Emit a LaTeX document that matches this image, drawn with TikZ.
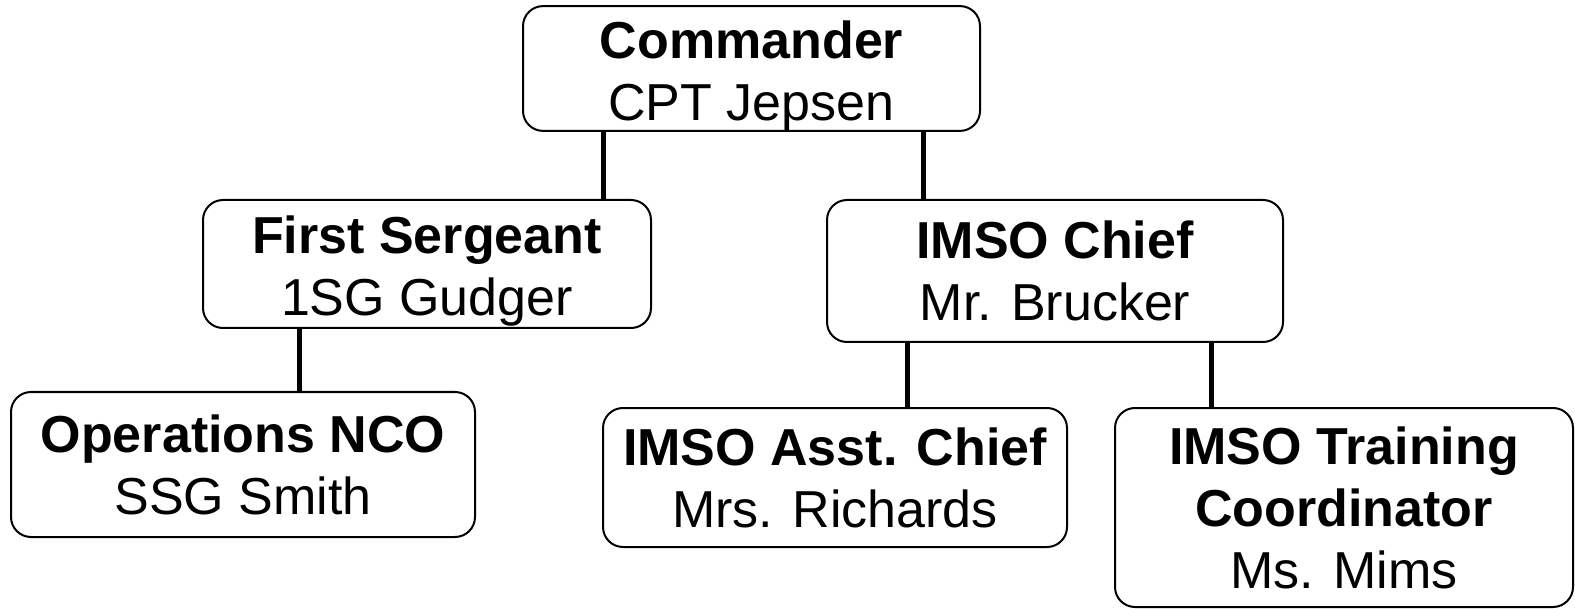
\documentclass[tikz,border=0pt]{standalone}
\usepackage{fontspec}
\setmainfont{Liberation Sans}
\usetikzlibrary{positioning}
\newcommand{\hdrstrut}{\rule{0pt}{26pt}}
\tikzset{
    orgbox/.style={draw, rounded corners=10pt, line width=1pt, align=center,
        inner sep=0pt, font=\fontsize{26}{31}\selectfont},
    link/.style={line width=2.5pt},
}

\begin{document}
\begin{tikzpicture}[x=0.5pt, y=-0.5pt]
            \useasboundingbox (0, 0) rectangle (1575, 609);
            % top of the chart
            \node[orgbox, minimum width=228.5pt, minimum height=61.5pt] (cmd)
                at (751.5, 68.5) {\hdrstrut\textbf{Commander}\\CPT Jepsen};
            % second row
            \node[orgbox, minimum width=224pt, minimum height=64pt] (fsg)
                at (427, 264) {\hdrstrut\textbf{First Sergeant}\\1SG Gudger};
            \node[orgbox, minimum width=228pt, minimum height=71pt] (chief)
                at (1055, 271) {\textbf{IMSO Chief}\\Mr. Brucker};
            % third row
            \node[orgbox, minimum width=232pt, minimum height=72.5pt] (ops)
                at (243, 464.5) {\textbf{Operations NCO}\\SSG Smith};
            \node[orgbox, minimum width=232pt, minimum height=69.5pt] (asst)
                at (835, 477.5) {\textbf{IMSO Asst. Chief}\\Mrs. Richards};
            \node[orgbox, minimum width=229pt, minimum height=99.5pt] (train)
                at (1344, 507.5)
                {\textbf{IMSO Training}\\\textbf{Coordinator}\\Ms. Mims};
            % reporting lines
            \draw[link] (cmd.south -| 603, 0) -- (fsg.north -| 603, 0);
            \draw[link] (cmd.south -| 923, 0) -- (chief.north -| 923, 0);
            \draw[link] (fsg.south -| 299, 0) -- (ops.north -| 299, 0);
            \draw[link] (chief.south -| 907, 0) -- (asst.north -| 907, 0);
            \draw[link] (chief.south -| 1211, 0) -- (train.north -| 1211, 0);
\end{tikzpicture}
\end{document}
